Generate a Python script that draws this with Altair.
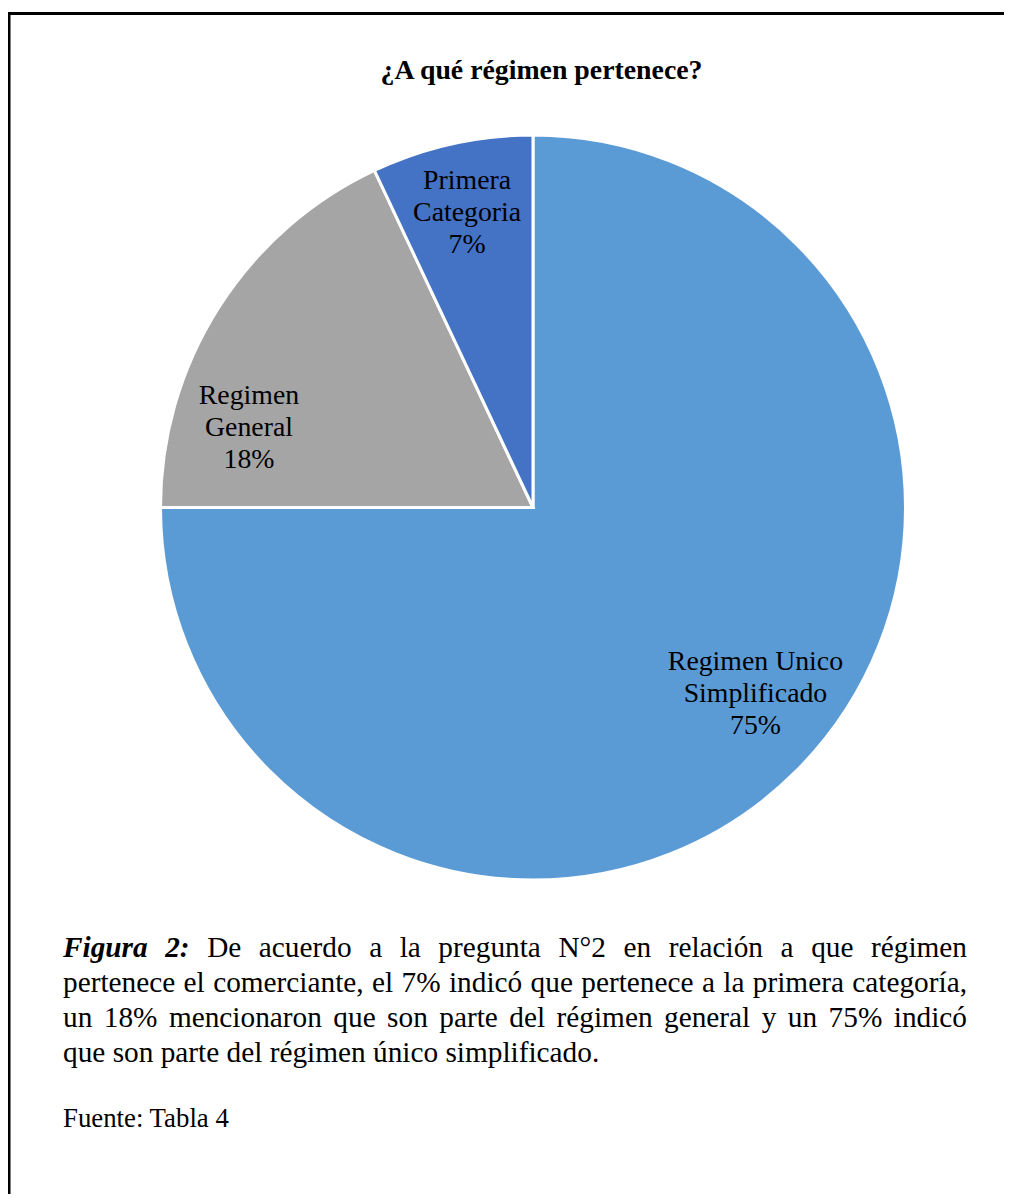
import altair as alt
import pandas as pd

# ---------------- data ----------------
categories = ["Regimen Unico Simplificado", "Regimen General", "Primera Categoria"]
label_names = ["Regimen Unico\nSimplificado", "Regimen\nGeneral", "Primera\nCategoria"]
percent = [75, 18, 7]
colors = ["#5B9BD5", "#A5A5A5", "#4472C4"]

title_text = "¿A qué régimen pertenece?"
caption_lines = [
    "Figura 2: De acuerdo a la pregunta N°2 en relación a que régimen",
    "pertenece el comerciante, el 7% indicó que pertenece a la primera categoría,",
    "un 18% mencionaron que son parte del régimen general y un 75% indicó",
    "que son parte del régimen único simplificado.",
]
caption_bold_words = 2  # "Figura 2:" in bold italic
source_text = "Fuente: Tabla 4"

# ---------------- layout ----------------
W, H = 996, 1186
CX, CY, R = 525, 499.5, 372.5
FONT = "Liberation Serif"
LABEL_FS = 27.8
LABEL_LH = 32
CAP_FS = 29.3
SRC_FS = 26.8
CAP_LEFT, CAP_RIGHT = 55, 959
CAP_BASELINES = [949, 984, 1019, 1054]

# Times New Roman advance widths (per 1000 em) used for justification
REG = {" ": 250, "a": 444, "b": 500, "c": 444, "d": 500, "e": 444, "f": 333, "g": 500,
       "h": 500, "i": 278, "j": 278, "k": 500, "l": 278, "m": 778, "n": 500, "o": 500,
       "p": 500, "q": 500, "r": 333, "s": 389, "t": 278, "u": 500, "v": 500, "w": 722,
       "x": 500, "y": 500, "z": 444, "é": 444, "í": 278, "ó": 500, "ú": 500, "á": 444,
       "%": 833, "°": 400, ",": 250, ".": 250, ":": 278, "N": 722, "D": 722, "F": 556,
       "T": 611}
BI = {"F": 667, "i": 278, "g": 500, "u": 556, "r": 389, "a": 500, "2": 500, ":": 333}


def wwidth(word, bi):
    tab = BI if bi else REG
    return sum(tab.get(ch, 500) for ch in word) / 1000 * CAP_FS


rows = []
for li, line in enumerate(caption_lines):
    words = line.split(" ")
    flags = [(li == 0 and k < caption_bold_words) for k in range(len(words))]
    widths = [wwidth(w, f) for w, f in zip(words, flags)]
    if li < len(caption_lines) - 1:
        gap = (CAP_RIGHT - CAP_LEFT - sum(widths)) / (len(words) - 1)
    else:
        gap = REG[" "] / 1000 * CAP_FS
    x = CAP_LEFT
    for w, f, wd in zip(words, flags, widths):
        rows.append({"word": w, "x": x, "y": CAP_BASELINES[li], "bi": f})
        x += wd + gap
cap_df = pd.DataFrame(rows)

pie_df = pd.DataFrame({
    "cat": categories,
    "pct": percent,
    "order": list(range(len(categories))),
    "label": [f"{n}\n{p}%" for n, p in zip(label_names, percent)],
})

# ---------------- chart ----------------
one = pd.DataFrame({"k": [0]})
frame_top = alt.Chart(one).mark_rule(stroke="black", strokeWidth=3).encode(
    x=alt.value(0), x2=alt.value(W), y=alt.value(5.5)
)
frame_left = alt.Chart(one).mark_rule(stroke="black", strokeWidth=3).encode(
    x=alt.value(1), y=alt.value(4), y2=alt.value(H)
)

base = alt.Chart(pie_df).encode(
    theta=alt.Theta("pct:Q", stack=True),
    order=alt.Order("order:Q"),
)

arcs = base.mark_arc(outerRadius=R, stroke="white", strokeWidth=3).encode(
    color=alt.Color("cat:N", scale=alt.Scale(domain=categories, range=colors), legend=None),
    x=alt.value(CX),
    y=alt.value(CY),
)

# (radius, dx, dy) of the label block centre relative to the slice mid-angle
label_place = {
    "Regimen Unico Simplificado": (290, 17.4, -18.6),
    "Regimen General": (295.5, -34.5, 78.8),
    "Primera Categoria": (302, 0, 0),
}
label_layers = []
for cat in categories:
    r, dx, dy = label_place[cat]
    label_layers.append(
        base.mark_text(
            radius=r, dx=dx, dy=dy - LABEL_LH, font=FONT, fontSize=LABEL_FS, lineBreak="\n",
            lineHeight=LABEL_LH, align="center", baseline="middle", color="black",
        ).encode(
            text="label:N",
            detail="cat:N",
            opacity=alt.condition(alt.datum.cat == cat, alt.value(1), alt.value(0)),
            x=alt.value(CX),
            y=alt.value(CY),
        )
    )

title = alt.Chart(pd.DataFrame({"t": [title_text]})).mark_text(
    font=FONT, fontSize=27.8, fontWeight="bold", align="center", baseline="alphabetic",
    color="black",
).encode(text="t:N", x=alt.value(533.5), y=alt.value(71))

cap_reg = alt.Chart(cap_df).transform_filter("!datum.bi").mark_text(
    font=FONT, fontSize=CAP_FS, align="left", baseline="alphabetic", color="black"
).encode(x=alt.X("x:Q", scale=None), y=alt.Y("y:Q", scale=None), text="word:N")

cap_bi = alt.Chart(cap_df).transform_filter("datum.bi").mark_text(
    font=FONT, fontSize=CAP_FS, fontWeight="bold", fontStyle="italic",
    align="left", baseline="alphabetic", color="black"
).encode(x=alt.X("x:Q", scale=None), y=alt.Y("y:Q", scale=None), text="word:N")

source = alt.Chart(pd.DataFrame({"t": [source_text]})).mark_text(
    font=FONT, fontSize=SRC_FS, align="left", baseline="alphabetic", color="black"
).encode(text="t:N", x=alt.value(55), y=alt.value(1119))

chart = alt.layer(frame_top, frame_left, arcs, *label_layers, title, cap_reg, cap_bi, source).properties(
    width=W, height=H, padding=0, autosize=alt.AutoSizeParams(type="none"),
    background="white",
).configure_view(strokeWidth=0)

chart.save("out.html", embed_options={"renderer": "svg", "actions": False})
